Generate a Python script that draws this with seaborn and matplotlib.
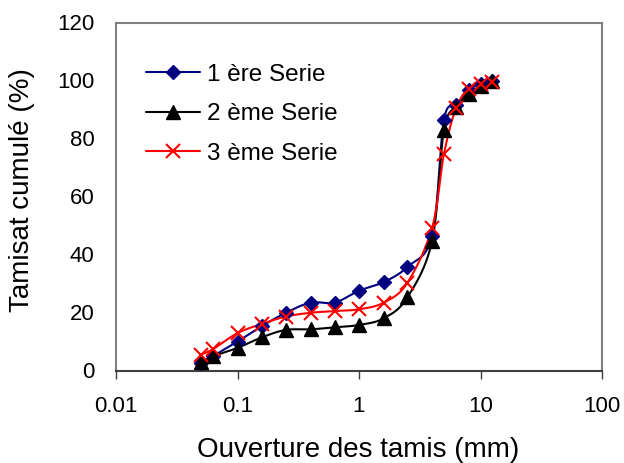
import numpy as np
import pandas as pd
import matplotlib
matplotlib.use("Agg")
import matplotlib.pyplot as plt
from matplotlib.lines import Line2D
import seaborn as sns

# ---- data ----
sizes = [0.05, 0.063, 0.1, 0.16, 0.25, 0.4, 0.63, 1, 1.6, 2.5, 4, 5, 6.3, 8, 10, 12.5]
serie1 = [2.6, 5.0, 10.0, 15.4, 19.9, 23.4, 23.4, 27.5, 30.5, 35.7, 46.5, 86.4, 91.5, 96.7, 98.9, 100]
serie2 = [2.8, 4.9, 7.8, 11.5, 14.0, 14.2, 14.9, 15.7, 18.0, 25.2, 44.8, 83.0, 91.0, 95.5, 98.1, 100]
serie3 = [5.5, 7.4, 12.9, 16.1, 18.6, 19.9, 20.5, 21.1, 23.4, 30.2, 49.3, 74.6, 90.6, 97.2, 98.9, 99.5]
labels = ["1 ère Serie", "2 ème Serie", "3 ème Serie"]
xticks = [0.01, 0.1, 1, 10, 100]
xticklabels = ["0.01", "0.1", "1", "10", "100"]
yticks = [0, 20, 40, 60, 80, 100, 120]

sns.set_style("white")
plt.rcParams["font.family"] = ["Liberation Sans", "DejaVu Sans"]
plt.rcParams["text.color"] = "black"
plt.rcParams["axes.labelcolor"] = "black"


def smooth(x, y, n=25):
    """Excel-like smoothed line (Catmull-Rom Bezier) in (log x, y) space."""
    P = np.column_stack([np.log10(x), np.asarray(y, float)])
    out = []
    t = np.linspace(0, 1, n)[:, None]
    for i in range(len(P) - 1):
        p0 = P[i - 1] if i > 0 else P[i]
        p1, p2 = P[i], P[i + 1]
        p3 = P[i + 2] if i + 2 < len(P) else P[i + 1]
        c1 = p1 + (p2 - p0) / 6
        c2 = p2 - (p3 - p1) / 6
        seg = (1 - t) ** 3 * p1 + 3 * (1 - t) ** 2 * t * c1 + 3 * (1 - t) * t ** 2 * c2 + t ** 3 * p2
        out.append(seg if i == 0 else seg[1:])
    out = np.vstack(out)
    return 10 ** out[:, 0], out[:, 1]


fig = plt.figure(figsize=(6.24, 4.63), dpi=100)
ax = fig.add_axes([116 / 624, 1 - 370.5 / 463, (602 - 116) / 624, (370.5 - 22.5) / 463])

styles = [
    dict(color="#000080", marker="D", ms=7.5, mew=1, mfc="#000080", mec="#000080"),
    dict(color="black", marker="^", ms=9.5, mew=1, mfc="black", mec="black"),
    dict(color="#FF0000", marker="x", ms=9.5, mew=1.5, mfc="#FF0000", mec="#FF0000"),
]

handles = []
for ys, lab, st in zip([serie1, serie2, serie3], labels, styles):
    xs_s, ys_s = smooth(sizes, ys)
    df = pd.DataFrame({"x": xs_s, "y": ys_s})
    sns.lineplot(data=df, x="x", y="y", sort=False, estimator=None,
                 color=st["color"], lw=1.5, ax=ax)
    ax.plot(sizes, ys, linestyle="none", marker=st["marker"], ms=st["ms"],
            mew=st["mew"], mfc=st["mfc"], mec=st["mec"], zorder=3)
    handles.append(Line2D([], [], color=st["color"], lw=1.5, marker=st["marker"],
                          ms=st["ms"], mew=st["mew"], mfc=st["mfc"], mec=st["mec"]))

ax.set_xscale("log")
ax.set_xlim(0.01, 100)
ax.set_ylim(0, 120)
ax.set_xticks(xticks)
ax.set_xticklabels(xticklabels)
ax.xaxis.set_minor_locator(matplotlib.ticker.NullLocator())
ax.set_yticks(yticks)
ax.tick_params(axis="x", direction="out", length=6, width=1, color="#404040",
               labelsize=16, pad=12, bottom=True, labelcolor="black")
ax.tick_params(axis="y", length=0, labelsize=16, pad=15.5, labelcolor="black")

for side in ["left", "top", "right"]:
    ax.spines[side].set_color("#808080")
    ax.spines[side].set_linewidth(1.5)
ax.spines["bottom"].set_color("#404040")
ax.spines["bottom"].set_linewidth(1.5)

ax.set_xlabel("")
ax.set_ylabel("")
fig.text(358 / 624, 1 - 450 / 463, "Ouverture des tamis (mm)", ha="center", va="center",
         fontsize=20, color="black")
fig.text(22 / 624, 1 - 190 / 463, "Tamisat cumulé (%)", ha="center", va="center",
         rotation=90, fontsize=20, color="black")

ax.legend(handles, labels, loc="upper left", bbox_to_anchor=(146 / 624, 1 - 63.5 / 463),
          bbox_transform=fig.transFigure, frameon=False, fontsize=17.5,
          handlelength=2.22, handletextpad=0.29, labelspacing=0.72,
          borderpad=0, borderaxespad=0)

fig.savefig("out.png", dpi=100)
